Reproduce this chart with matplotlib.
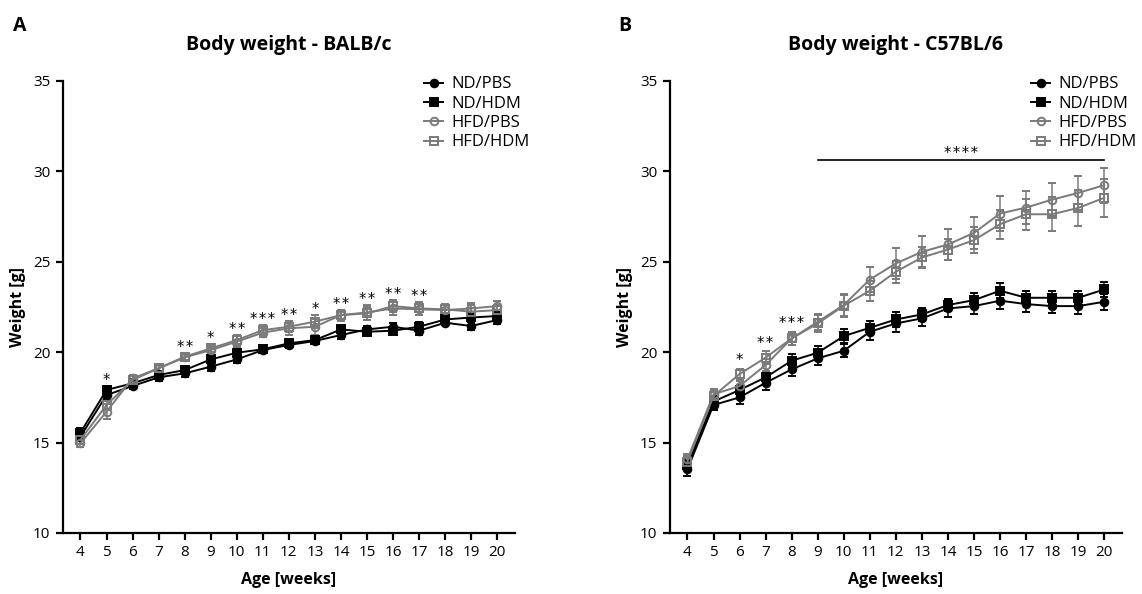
import matplotlib
matplotlib.use("Agg")
import matplotlib.pyplot as plt
from matplotlib.lines import Line2D
import numpy as np

plt.rcParams['font.family'] = ['Open Sans', 'DejaVu Sans']

weeks = list(range(4, 21))
groups = ["ND/PBS", "ND/HDM", "HFD/PBS", "HFD/HDM"]

# Panel A: BALB/c
balb_nd_pbs = [15.33, 17.63, 18.13, 18.61, 18.83, 19.20, 19.60, 20.12, 20.40, 20.62, 20.95, 21.26, 21.41, 21.19, 21.63, 21.45, 21.78]
balb_nd_hdm = [15.55, 17.91, 18.28, 18.74, 19.01, 19.60, 19.97, 20.16, 20.49, 20.67, 21.26, 21.13, 21.19, 21.41, 21.81, 21.92, 22.00]
balb_hfd_pbs = [14.96, 16.71, 18.55, 19.11, 19.71, 20.12, 20.58, 21.08, 21.32, 21.41, 22.05, 22.20, 22.42, 22.37, 22.33, 22.42, 22.55]
balb_hfd_hdm = [15.15, 17.08, 18.46, 19.11, 19.75, 20.21, 20.67, 21.22, 21.41, 21.69, 22.05, 22.15, 22.55, 22.42, 22.37, 22.24, 22.33]
balb_err_nd_pbs = [0.25, 0.2, 0.15, 0.2, 0.2, 0.25, 0.2, 0.15, 0.15, 0.15, 0.2, 0.2, 0.2, 0.25, 0.15, 0.2, 0.2]
balb_err_nd_hdm = [0.25, 0.2, 0.15, 0.2, 0.2, 0.25, 0.25, 0.15, 0.15, 0.15, 0.2, 0.2, 0.2, 0.25, 0.15, 0.2, 0.2]
balb_err_hfd_pbs = [0.2, 0.4, 0.2, 0.2, 0.2, 0.25, 0.3, 0.25, 0.35, 0.45, 0.3, 0.4, 0.35, 0.3, 0.3, 0.3, 0.3]
balb_err_hfd_hdm = [0.2, 0.3, 0.2, 0.2, 0.2, 0.25, 0.3, 0.3, 0.3, 0.35, 0.3, 0.35, 0.35, 0.35, 0.3, 0.35, 0.3]
balb_sig_weeks = [5, 8, 9, 10, 11, 12, 13, 14, 15, 16, 17]
balb_sig_labels = ["*", "**", "*", "**", "***", "**", "*", "**", "**", "**", "**"]

# Panel B: C57BL/6
c57_nd_pbs = [13.53, 17.08, 17.50, 18.31, 19.05, 19.66, 20.08, 21.13, 21.59, 21.87, 22.42, 22.55, 22.85, 22.66, 22.55, 22.55, 22.79]
c57_nd_hdm = [13.77, 17.27, 17.91, 18.61, 19.53, 19.97, 20.89, 21.35, 21.81, 22.09, 22.61, 22.88, 23.40, 23.01, 23.01, 23.01, 23.47]
c57_hfd_pbs = [14.08, 17.67, 18.13, 19.29, 20.76, 21.68, 22.61, 24.02, 24.91, 25.55, 25.96, 26.60, 27.67, 28.00, 28.44, 28.81, 29.24]
c57_hfd_hdm = [13.95, 17.58, 18.79, 19.70, 20.76, 21.59, 22.57, 23.40, 24.45, 25.24, 25.68, 26.20, 27.08, 27.63, 27.63, 27.98, 28.54]
c57_err_nd_pbs = [0.35, 0.3, 0.35, 0.4, 0.35, 0.35, 0.35, 0.45, 0.45, 0.4, 0.45, 0.45, 0.45, 0.45, 0.4, 0.45, 0.45]
c57_err_nd_hdm = [0.3, 0.3, 0.3, 0.35, 0.35, 0.4, 0.4, 0.35, 0.4, 0.35, 0.35, 0.4, 0.4, 0.4, 0.35, 0.35, 0.4]
c57_err_hfd_pbs = [0.3, 0.3, 0.3, 0.35, 0.35, 0.45, 0.6, 0.7, 0.85, 0.85, 0.85, 0.9, 0.95, 0.9, 0.93, 0.95, 0.97]
c57_err_hfd_hdm = [0.3, 0.3, 0.3, 0.35, 0.35, 0.45, 0.6, 0.55, 0.6, 0.6, 0.6, 0.7, 0.8, 0.85, 0.95, 1.0, 1.05]
c57_sig_weeks = [6, 7, 8]
c57_sig_labels = ["*", "**", "***"]
c57_bar_range = [9, 20]
c57_bar_label = "****"
c57_bar_y = 30.62

yticks = [10, 15, 20, 25, 30, 35]

BLACK = "#000000"
GREY = "#7a7a7a"
styles = [
    dict(color=BLACK, marker="o", mfc=BLACK, mec=BLACK),
    dict(color=BLACK, marker="s", mfc=BLACK, mec=BLACK),
    dict(color=GREY, marker="o", mfc="none", mec=GREY),
    dict(color=GREY, marker="s", mfc="none", mec=GREY),
]

fig = plt.figure(figsize=(11.42, 5.94), dpi=100)
axA = fig.add_axes([63 / 1142, 1 - 533 / 594, (515 - 63) / 1142, (533 - 81) / 594])
axB = fig.add_axes([670 / 1142, 1 - 533 / 594, (1122 - 670) / 1142, (533 - 81) / 594])


def spaced(lab):
    return "\u200a".join(list(lab))


def draw(ax, series, errs, title):
    for name, vals, err, st in zip(groups, series, errs, styles):
        ax.errorbar(weeks, vals, yerr=err, color=st["color"], marker=st["marker"],
                    mfc=st["mfc"], mec=st["mec"], ms=5.5, mew=1.4, lw=1.4,
                    elinewidth=1.1, capsize=3, capthick=1.1)
    ax.set_xlim(3.33, 20.68)
    ax.set_ylim(10, 35)
    ax.set_xticks(weeks)
    ax.set_yticks(yticks)
    for s in ["top", "right"]:
        ax.spines[s].set_visible(False)
    for s in ["left", "bottom"]:
        ax.spines[s].set_linewidth(1.6)
    ax.tick_params(axis="both", direction="out", length=5, width=1.6, labelsize=11, pad=4)
    ax.set_xlabel("Age [weeks]", fontsize=11.5, fontweight="bold", labelpad=8)
    ax.set_ylabel("Weight [g]", fontsize=11.5, fontweight="bold", labelpad=5)
    ax.set_title(title, fontsize=14, fontweight="bold", pad=22)
    handles = [Line2D([], [], color=st["color"], marker=st["marker"], mfc=st["mfc"],
                      mec=st["mec"], ms=5.5, mew=1.4, lw=1.4) for st in styles]
    ax.legend(handles, groups, loc="upper left", bbox_to_anchor=(0.785, 1.025), frameon=False,
              fontsize=12, handlelength=1.1, handletextpad=0.5,
              labelspacing=0.2, borderaxespad=0)


def stars(ax, sig_weeks, labels, series, errs, offset):
    for w, lab in zip(sig_weeks, labels):
        i = weeks.index(w)
        top = max(v[i] + e[i] for v, e in zip(series, errs))
        ax.text(w, top + offset, spaced(lab), ha="center", va="center", fontsize=10.5,
                family="DejaVu Sans")


seriesA = [balb_nd_pbs, balb_nd_hdm, balb_hfd_pbs, balb_hfd_hdm]
errsA = [balb_err_nd_pbs, balb_err_nd_hdm, balb_err_hfd_pbs, balb_err_hfd_hdm]
seriesB = [c57_nd_pbs, c57_nd_hdm, c57_hfd_pbs, c57_hfd_hdm]
errsB = [c57_err_nd_pbs, c57_err_nd_hdm, c57_err_hfd_pbs, c57_err_hfd_hdm]

draw(axA, seriesA, errsA, "Body weight - BALB/c")
draw(axB, seriesB, errsB, "Body weight - C57BL/6")
stars(axA, balb_sig_weeks, balb_sig_labels, seriesA, errsA, 0.3)
stars(axB, c57_sig_weeks, c57_sig_labels, seriesB, errsB, 0.45)

axB.plot(c57_bar_range, [c57_bar_y, c57_bar_y], color=BLACK, lw=1.2)
axB.text(np.mean(c57_bar_range), c57_bar_y - 0.05, spaced(c57_bar_label), ha="center", va="bottom",
         fontsize=10.5, family="DejaVu Sans")

fig.text(20 / 1142, 1 - 26 / 594, "A", fontsize=14, fontweight="bold", ha="center", va="center")
fig.text(625 / 1142, 1 - 26 / 594, "B", fontsize=14, fontweight="bold", ha="center", va="center")

fig.savefig("out.png", dpi=100)
